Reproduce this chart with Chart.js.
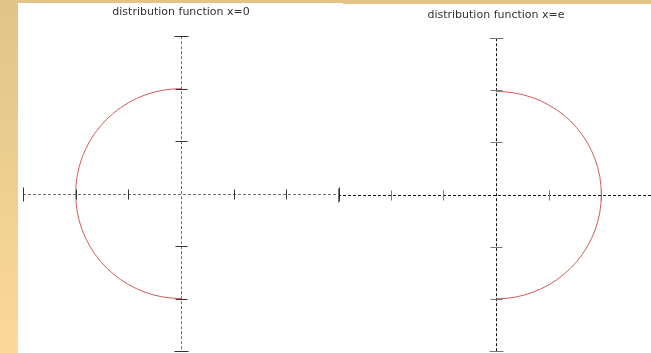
<!DOCTYPE html>
<html>
<head>
<meta charset="utf-8">
<script src="https://cdn.jsdelivr.net/npm/chart.js@4/dist/chart.umd.min.js"></script>
<style>
  html, body { margin: 0; padding: 0; width: 651px; height: 353px; overflow: hidden; background: #fff; }
  #side { position: absolute; left: 0; top: 0; width: 18px; height: 353px; background: linear-gradient(#e0c488, #fcd99b); }
  #barL { position: absolute; left: 18px; top: 0; width: 325px; height: 3px; background: #e3c485; }
  #barR { position: absolute; left: 343px; top: 0; width: 308px; height: 4px; background: #e3c485; }
  .wrap { position: absolute; }
</style>
</head>
<body>
<div id="side"></div>
<div id="barL"></div>
<div id="barR"></div>
<div class="wrap" style="left:18px;top:3px;width:325px;height:350px;"><canvas id="left"></canvas></div>
<div class="wrap" style="left:333px;top:4px;width:326px;height:349px;"><canvas id="right"></canvas></div>
<script>
// semicircle points (unit radius)
const leftX = [0, -0.087, -0.174, -0.259, -0.342, -0.423, -0.5, -0.574, -0.643, -0.707,
  -0.766, -0.819, -0.866, -0.906, -0.94, -0.966, -0.985, -0.996, -1,
  -0.996, -0.985, -0.966, -0.94, -0.906, -0.866, -0.819, -0.766, -0.707,
  -0.643, -0.574, -0.5, -0.423, -0.342, -0.259, -0.174, -0.087, 0];
const leftY = [1, 0.996, 0.985, 0.966, 0.94, 0.906, 0.866, 0.819, 0.766, 0.707,
  0.643, 0.574, 0.5, 0.423, 0.342, 0.259, 0.174, 0.087, 0,
  -0.087, -0.174, -0.259, -0.342, -0.423, -0.5, -0.574, -0.643, -0.707,
  -0.766, -0.819, -0.866, -0.906, -0.94, -0.966, -0.985, -0.996, -1];
const rightX = [0, 0.087, 0.174, 0.259, 0.342, 0.423, 0.5, 0.574, 0.643, 0.707,
  0.766, 0.819, 0.866, 0.906, 0.94, 0.966, 0.985, 0.996, 1,
  0.996, 0.985, 0.966, 0.94, 0.906, 0.866, 0.819, 0.766, 0.707,
  0.643, 0.574, 0.5, 0.423, 0.342, 0.259, 0.174, 0.087, 0];
const rightY = [0.99, 0.986, 0.975, 0.957, 0.932, 0.9, 0.86, 0.815, 0.763, 0.705,
  0.642, 0.573, 0.5, 0.423, 0.342, 0.259, 0.174, 0.087, 0,
  -0.087, -0.174, -0.259, -0.342, -0.423, -0.5, -0.574, -0.643, -0.707,
  -0.766, -0.819, -0.866, -0.906, -0.94, -0.966, -0.985, -0.996, -1];
const axisMin = -1.5;
const axisMax = 1.5;
const tickStep = 0.5;

// dashed axes through the origin plus ticks that cross them
const crossAxes = {
  id: "crossAxes",
  afterDraw(chart, args, opts) {
    const ctx = chart.ctx;
    const area = chart.chartArea;
    const xs = chart.scales.x;
    const ys = chart.scales.y;
    const x0 = Math.round(xs.getPixelForValue(0)) + 0.5;
    const y0 = Math.round(ys.getPixelForValue(0)) + 0.5;
    ctx.save();
    ctx.lineWidth = 1;
    ctx.strokeStyle = opts.axisColor;
    ctx.setLineDash([3, 2]);
    ctx.beginPath();
    ctx.moveTo(area.left, y0);
    ctx.lineTo(area.right, y0);
    ctx.moveTo(x0, area.top);
    ctx.lineTo(x0, area.bottom);
    ctx.stroke();
    ctx.setLineDash([]);
    ctx.strokeStyle = opts.tickColor;
    ctx.beginPath();
    xs.ticks.forEach((t, i) => {
      if (t.value === 0) return;
      const px = Math.round(xs.getPixelForValue(t.value)) + 0.5;
      const h = i === 0 || i === xs.ticks.length - 1 ? 7 : 5;
      ctx.moveTo(px, y0 - h);
      ctx.lineTo(px, y0 + h);
    });
    ys.ticks.forEach((t, i) => {
      if (t.value === 0) return;
      const py = Math.round(ys.getPixelForValue(t.value)) + 0.5;
      const w = i === 0 || i === ys.ticks.length - 1 ? 7 : 6;
      ctx.moveTo(x0 - w, py);
      ctx.lineTo(x0 + w, py);
    });
    ctx.stroke();
    ctx.restore();
  },
};

function makeChart(id, title, xs, ys, axisColor, tickColor, padding, titlePad) {
  const axis = (pos) => ({
    type: "linear",
    min: axisMin,
    max: axisMax,
    position: pos,
    ticks: { display: false, stepSize: tickStep },
    grid: { display: false, drawOnChartArea: false, drawTicks: false },
    border: { display: false },
    afterFit(scale) {
      if (scale.isHorizontal()) scale.height = 0;
      else scale.width = 0;
    },
  });
  return new Chart(document.getElementById(id), {
    type: "scatter",
    data: {
      datasets: [
        {
          data: xs.map((x, i) => ({ x: x, y: ys[i] })),
          showLine: true,
          borderColor: "#d45a5a",
          borderWidth: 1,
          pointRadius: 0,
          tension: 0,
          fill: false,
        },
      ],
    },
    options: {
      responsive: true,
      maintainAspectRatio: false,
      animation: false,
      layout: { padding: padding },
      scales: {
        x: axis({ y: 0 }),
        y: axis({ x: 0 }),
      },
      plugins: {
        legend: { display: false },
        tooltip: { enabled: false },
        title: {
          display: true,
          text: title,
          color: "#333",
          font: { family: "DejaVu Sans", size: 11, weight: "normal" },
          padding: titlePad,
        },
        crossAxes: { axisColor: axisColor, tickColor: tickColor },
      },
    },
    plugins: [crossAxes],
  });
}

makeChart("left", "distribution function x=0", leftX, leftY, "#707070", "#333",
  { left: 5, right: 4, top: 0, bottom: 2 }, { top: 3, bottom: 17 });
makeChart("right", "distribution function x=e", rightX, rightY, "#111", "#777",
  { left: 5, right: 5, top: 0, bottom: 2 }, { top: 5, bottom: 16 });
</script>
</body>
</html>
